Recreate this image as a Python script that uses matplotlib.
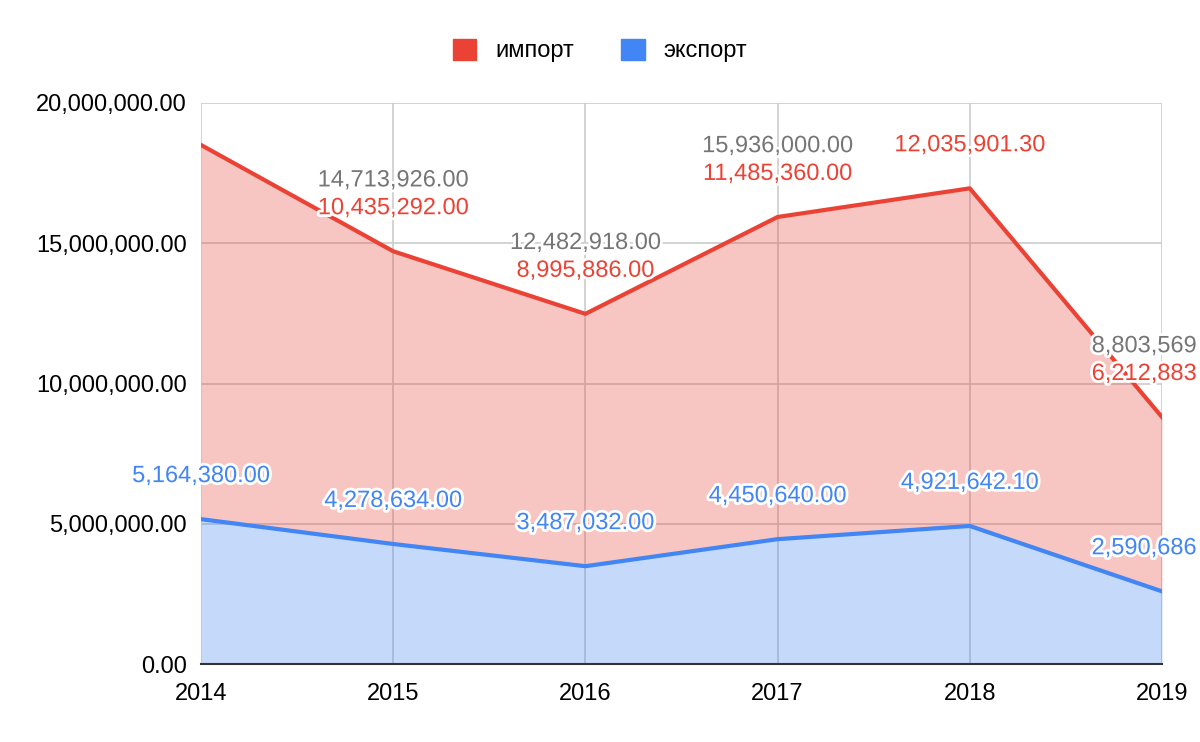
import numpy as np
import matplotlib
matplotlib.use("Agg")
import matplotlib.pyplot as plt
import matplotlib.patheffects as pe
from matplotlib.patches import Patch
from matplotlib.ticker import FuncFormatter

plt.rcParams["font.family"] = ["Liberation Sans", "DejaVu Sans"]

years = [2014, 2015, 2016, 2017, 2018, 2019]
export = [5164380.00, 4278634.00, 3487032.00, 4450640.00, 4921642.10, 2590686]
imports = [13340000.00, 10435292.00, 8995886.00, 11485360.00, 12035901.30, 6212883]
# which labels are visible in the original (some are hidden by the chart tool)
show_import = [False, True, True, True, True, True]
show_total = [False, True, True, True, False, True]

RED = "#ea4335"
BLUE = "#4285f4"
GREY = "#757575"

export = np.array(export)
imports = np.array(imports)
total = export + imports

fig = plt.figure(figsize=(12, 7.42), dpi=100)
ax = fig.add_axes([0.1675, 0.1051, 0.8008, 0.7561])

ax.fill_between(years, 0, export, color=BLUE, alpha=0.3, linewidth=0, zorder=2)
ax.fill_between(years, export, total, color=RED, alpha=0.3, linewidth=0, zorder=2)
ax.plot(years, export, color=BLUE, linewidth=3, zorder=3)
ax.plot(years, total, color=RED, linewidth=3, zorder=3)

ax.set_xlim(years[0], years[-1])
ax.set_ylim(0, 20000000)
ax.set_xticks(years)
ax.set_yticks(np.arange(0, 20000001, 5000000))
ax.yaxis.set_major_formatter(FuncFormatter(lambda v, p: f"{v:,.2f}"))
ax.tick_params(length=0, labelsize=17, colors="black", pad=10)
ax.tick_params(axis="x", pad=14)
ax.grid(True, color="#cccccc", linewidth=1.2, zorder=1)
for s in ["top", "right", "left"]:
    ax.spines[s].set_visible(False)
ax.spines["bottom"].set_color("#333333")
ax.spines["bottom"].set_linewidth(1.5)
ax.set_axisbelow(True)

halo = [pe.withStroke(linewidth=4, foreground="white")]


def fmt(v, last):
    return f"{v:,.0f}" if last else f"{v:,.2f}"


n = len(years)
for i, yr in enumerate(years):
    last = i == n - 1
    ha = "right" if last else "center"
    dx = 25 if last else 0
    ax.annotate(fmt(export[i], last), (yr, export[i]), xytext=(dx, 31),
                textcoords="offset points", ha=ha, va="center",
                fontsize=17, color=BLUE, path_effects=halo, zorder=5,
                annotation_clip=False)
    if show_import[i]:
        ax.annotate(fmt(imports[i], last), (yr, total[i]), xytext=(dx, 31),
                    textcoords="offset points", ha=ha, va="center",
                    fontsize=17, color=RED, path_effects=halo, zorder=5,
                    annotation_clip=False)
    if show_total[i]:
        ax.annotate(fmt(total[i], last), (yr, total[i]), xytext=(dx, 51),
                    textcoords="offset points", ha=ha, va="center",
                    fontsize=17, color=GREY, path_effects=halo, zorder=5,
                    annotation_clip=False)

handles = [Patch(color=RED, label="импорт"), Patch(color=BLUE, label="экспорт")]
fig.legend(handles=handles, loc="center", bbox_to_anchor=(0.5, 0.932), ncol=2,
           frameon=False, fontsize=17, handlelength=1.0, handleheight=1.0,
           columnspacing=2.0, handletextpad=0.8)

fig.savefig("out.png", dpi=100)
